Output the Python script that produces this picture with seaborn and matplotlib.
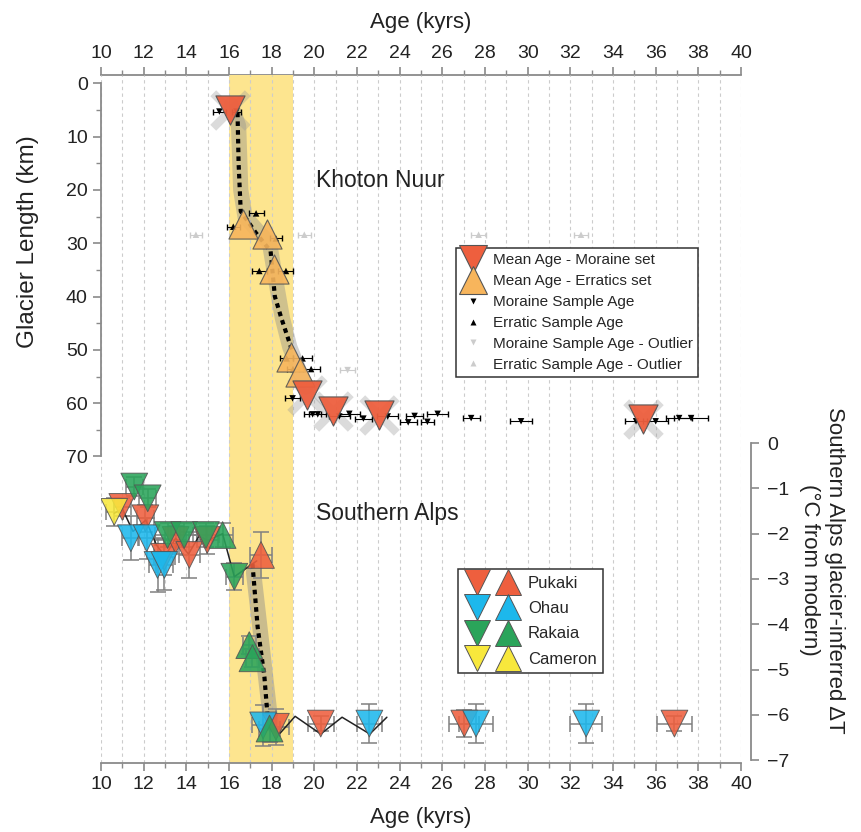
import numpy as np
import pandas as pd
import matplotlib
matplotlib.use("Agg")
import matplotlib.pyplot as plt
import seaborn as sns
from matplotlib.lines import Line2D
from matplotlib.legend_handler import HandlerTuple

sns.set_theme(style="white")
plt.rcParams['font.family'] = ['Liberation Sans', 'DejaVu Sans']

# ---------------- Khoton Nuur (left axis, km) ----------------
kn_moraine_age = [16.05, 19.64, 20.86, 23.05, 35.4]
kn_moraine_km = [5.0, 58.5, 61.4, 62.3, 62.9]
kn_erratic_age = [16.64, 17.76, 18.09, 18.9, 19.33]
kn_erratic_km = [26.3, 28.3, 34.9, 51.3, 54.1]

ms_age = [15.55, 16.35, 18.98, 19.92, 20.16, 21.17, 21.64, 22.3, 23.44, 24.4, 24.7, 25.3, 25.78, 27.35, 29.69, 35.08, 36.0, 37.1, 37.66]
ms_km = [5.3, 5.3, 59.1, 62.1, 62.1, 62.5, 62.0, 62.9, 62.5, 63.6, 62.4, 63.5, 62.0, 62.8, 63.4, 63.4, 63.4, 62.8, 62.8]
ms_err = [0.3, 0.2, 0.35, 0.4, 0.4, 0.5, 0.5, 0.4, 0.5, 0.4, 0.4, 0.3, 0.5, 0.4, 0.5, 0.5, 0.6, 0.6, 0.8]

es_age = [16.2, 17.27, 18.2, 17.42, 18.67, 19.45, 18.7, 19.85, 19.0]
es_km = [26.9, 24.4, 29.1, 35.2, 35.2, 51.6, 51.6, 53.6, 53.6]
es_err = [0.3, 0.35, 0.3, 0.35, 0.35, 0.45, 0.3, 0.4, 0.3]

mo_age = [21.56]
mo_km = [53.8]
mo_err = [0.35]
eo_age = [14.45, 19.53, 27.7, 32.5]
eo_km = [28.4, 28.4, 28.4, 28.4]
eo_err = [0.3, 0.3, 0.35, 0.35]

kn_dot_age = [16.4, 16.45, 16.55, 17.25, 17.95, 18.15, 18.45, 18.98]
kn_dot_km = [5.5, 15.0, 24.0, 28.0, 31.5, 40.0, 44.0, 50.4]
kn_band_age = [16.1, 16.45, 16.55, 16.75, 17.3, 17.9, 18.15, 18.5, 18.85, 19.3, 19.6]
kn_band_km = [4.0, 8.0, 20.0, 25.0, 27.5, 30.0, 36.0, 44.0, 49.5, 54.0, 57.0]

# ---------------- Southern Alps (right axis, deg C) ----------------
sa_glacier = (['Pukaki'] * 10 + ['Pukaki'] + ['Ohau'] * 8 + ['Rakaia'] * 6 + ['Rakaia'] * 4 + ['Cameron'])
sa_kind = (['down'] * 10 + ['up'] + ['down'] * 8 + ['down'] * 6 + ['up'] * 4 + ['down'])
sa_age = [11.0, 12.08, 12.97, 13.5, 14.14, 14.98, 18.2, 20.3, 27.03, 36.88,
          17.5,
          11.4, 12.14, 12.65, 12.97, 17.6, 22.58, 27.58, 32.74,
          11.56, 12.19, 13.12, 13.9, 14.92, 16.25,
          15.7, 16.95, 17.1, 17.9,
          10.62]
sa_dt = [-1.41, -1.66, -2.51, -2.14, -2.47, -2.14, -6.26, -6.19, -6.19, -6.19,
         -2.47,
         -2.1, -2.1, -2.69, -2.69, -6.23, -6.19, -6.19, -6.19,
         -0.96, -1.22, -2.03, -2.03, -2.03, -2.95,
         -2.03, -4.46, -4.75, -6.3,
         -1.52]
sa_xerr = [0.4, 0.4, 0.5, 0.5, 0.5, 0.5, 0.6, 0.6, 0.7, 0.8,
           0.5,
           0.4, 0.4, 0.4, 0.4, 0.5, 0.6, 0.8, 0.75,
           0.4, 0.4, 0.6, 0.6, 0.6, 0.4,
           0.5, 0.3, 0.3, 0.5,
           0.4]
sa_yerr = [0.2, 0.3, 0.4, 0.3, 0.5, 0.3, 0.4, 0.16, 0.3, 0.16,
           0.5,
           0.48, 0.45, 0.6, 0.55, 0.45, 0.43, 0.43, 0.43,
           0.2, 0.2, 0.27, 0.27, 0.27, 0.3,
           0.27, 0.2, 0.2, 0.3,
           0.3]

sa_line_age = [10.62, 11.0, 11.5, 12.1, 12.6, 13.0, 13.5, 14.1, 14.6, 15.0, 15.7, 16.25, 17.3]
sa_line_dt = [-1.55, -1.45, -1.95, -1.7, -2.25, -2.5, -2.1, -2.45, -2.05, -2.15, -2.0, -2.95, -2.6]
sa_zig_age = [18.4, 19.1, 20.3, 21.3, 22.6, 23.4]
sa_zig_dt = [-6.4, -6.03, -6.42, -6.05, -6.42, -6.05]
sa_dot_age = [17.1, 17.34, 17.66, 17.81]
sa_dot_dt = [-2.66, -4.05, -5.16, -6.04]
sa_band_age = [17.15, 17.97]
sa_band_dt = [-2.85, -6.2]

glaciers = ['Pukaki', 'Ohau', 'Rakaia', 'Cameron']
palette = {'Pukaki': '#EE5F3E', 'Ohau': '#1DB8EC', 'Rakaia': '#2AA45A', 'Cameron': '#F8E83C'}
RED = '#EE5F3E'
ORANGE = '#F7B55C'

sa = pd.DataFrame({'glacier': sa_glacier, 'kind': sa_kind, 'age': sa_age, 'dt': sa_dt,
                   'xerr': sa_xerr, 'yerr': sa_yerr})

# ---------------- figure ----------------
W, H = 862, 832
fig = plt.figure(figsize=(W / 100, H / 100), dpi=100)
L, R, T, B = 101, 741, 75, 763
ax = fig.add_axes([L / W, 1 - B / H, (R - L) / W, (B - T) / H])
ax.set_xlim(10, 40)
ax.set_ylim(127.5, -1.56)
ax2 = ax.twinx()
ax2.set_ylim(-7.06, 8.12)

spine_c = '#8a8a8a'
for a in (ax, ax2):
    for s in a.spines.values():
        s.set_color(spine_c)
        s.set_linewidth(1.3)
ax.spines['top'].set_visible(False)
ax.spines['right'].set_visible(False)
ax.spines['left'].set_bounds(0, 70)
for k in ('top', 'left', 'bottom'):
    ax2.spines[k].set_visible(False)
ax2.spines['right'].set_bounds(-7, 0)
ax2.spines['right'].set_position(('outward', 7))

ax.set_xticks(np.arange(10, 41, 2))
ax.set_xticks(np.arange(11, 40, 2), minor=True)
ax.set_yticks(np.arange(0, 71, 10))
ax.set_yticks(np.arange(5, 70, 10), minor=True)
ax2.set_yticks(np.arange(-7, 1, 1))

tick_kw = dict(direction='out', color=spine_c, labelsize=14, labelcolor='#222222', width=1.2)
ax.tick_params(axis='both', which='major', length=6, left=True, bottom=True, **tick_kw)
ax.tick_params(axis='both', which='minor', length=3.5, left=True, bottom=True, color=spine_c, width=1.0, direction='out')
ax2.tick_params(axis='y', which='major', length=6, right=True, pad=6, **tick_kw)

secax = ax.secondary_xaxis('top')
secax.set_xticks(np.arange(10, 41, 2))
secax.set_xticks(np.arange(11, 40, 2), minor=True)
secax.tick_params(axis='x', which='major', length=6, **tick_kw)
secax.tick_params(axis='x', which='minor', length=3.5, color=spine_c, width=1.0, direction='out')
secax.spines['top'].set_color(spine_c)
secax.spines['top'].set_linewidth(1.3)
secax.set_xlabel('Age (kyrs)', fontsize=16, color='#222222', labelpad=12)
ax.set_xlabel('Age (kyrs)', fontsize=16, color='#222222', labelpad=10)

# background band + grid
ax.axvspan(16, 19, color='#FDE58F', zorder=0.1, lw=0)
ax.set_axisbelow(True)
ax.grid(True, axis='x', which='both', color='#cccccc', linestyle=(0, (3, 3)), linewidth=0.8)
ax.grid(False, axis='y')
ax2.grid(False)

# ---------------- Khoton Nuur drawing ----------------
ax.plot(kn_band_age, kn_band_km, color='#8c8c8c', alpha=0.4, lw=11,
        solid_capstyle='round', solid_joinstyle='round', zorder=2)
ax.scatter(kn_moraine_age, kn_moraine_km, marker='x', s=620, linewidths=6,
           color='#9a9a9a', alpha=0.35, zorder=2.5)
sns.lineplot(x=kn_dot_age, y=kn_dot_km, ax=ax, color='black', lw=3,
             linestyle=(0, (1.1, 1.0)), estimator=None, sort=False, zorder=3, legend=False)

ax.errorbar(eo_age, eo_km, xerr=eo_err, fmt='none', ecolor='#cccccc', elinewidth=0.8, capsize=2, zorder=3.5)
ax.errorbar(mo_age, mo_km, xerr=mo_err, fmt='none', ecolor='#cccccc', elinewidth=0.8, capsize=2, zorder=3.5)
sns.scatterplot(x=eo_age, y=eo_km, ax=ax, marker='^', s=22, color='#cccccc', edgecolor='none', zorder=3.6, legend=False)
sns.scatterplot(x=mo_age, y=mo_km, ax=ax, marker='v', s=22, color='#cccccc', edgecolor='none', zorder=3.6, legend=False)

ax.errorbar(ms_age, ms_km, xerr=ms_err, fmt='none', ecolor='black', elinewidth=0.8, capsize=2, zorder=4)
ax.errorbar(es_age, es_km, xerr=es_err, fmt='none', ecolor='black', elinewidth=0.8, capsize=2, zorder=4)
sns.scatterplot(x=ms_age, y=ms_km, ax=ax, marker='v', s=22, color='black', edgecolor='none', zorder=4.5, legend=False)
sns.scatterplot(x=es_age, y=es_km, ax=ax, marker='^', s=22, color='black', edgecolor='none', zorder=4.5, legend=False)

sns.scatterplot(x=kn_erratic_age, y=kn_erratic_km, ax=ax, marker='^', s=440, color=ORANGE,
                edgecolor='#555555', linewidth=0.8, alpha=0.9, zorder=6, legend=False)
sns.scatterplot(x=kn_moraine_age, y=kn_moraine_km, ax=ax, marker='v', s=440, color=RED,
                edgecolor='#555555', linewidth=0.8, alpha=0.95, zorder=6, legend=False)

ax.text(20.1, 18.2, 'Khoton Nuur', fontsize=16.5, color='#222222', ha='left', va='center', zorder=7)

# ---------------- Southern Alps drawing ----------------
ax2.errorbar(sa['age'], sa['dt'], xerr=sa['xerr'], yerr=sa['yerr'], fmt='none', ecolor='#808080',
             elinewidth=1.1, capsize=6, capthick=1.1, zorder=2)
ax2.plot(sa_band_age, sa_band_dt, color='#8c8c8c', alpha=0.45, lw=11, solid_capstyle='round', zorder=2.5)
sns.lineplot(x=sa_line_age, y=sa_line_dt, ax=ax2, color='#222222', lw=1.1,
             estimator=None, sort=False, zorder=3, legend=False)
sns.lineplot(x=sa_zig_age, y=sa_zig_dt, ax=ax2, color='#222222', lw=1.1,
             estimator=None, sort=False, zorder=3, legend=False)
sns.lineplot(x=sa_dot_age, y=sa_dot_dt, ax=ax2, color='black', lw=3,
             linestyle=(0, (1.1, 1.0)), estimator=None, sort=False, zorder=3.5, legend=False)

for kind, mk in (('down', 'v'), ('up', '^')):
    sub = sa[sa['kind'] == kind]
    sns.scatterplot(data=sub, x='age', y='dt', hue='glacier', hue_order=glaciers, palette=palette,
                    ax=ax2, marker=mk, s=370, edgecolor='#555555', linewidth=0.7, alpha=0.88,
                    zorder=5, legend=False)

ax2.text(20.1, -1.55, 'Southern Alps', fontsize=16.5, color='#222222', ha='left', va='center', zorder=7)
ax2.set_ylabel('')
ax.set_ylabel('')

# ---------------- legends ----------------
h1 = [Line2D([], [], ls='none', marker='v', ms=20, mfc=RED, mec='#555555', mew=0.8),
      Line2D([], [], ls='none', marker='^', ms=20, mfc=ORANGE, mec='#555555', mew=0.8),
      Line2D([], [], ls='none', marker='v', ms=5, mfc='black', mec='none'),
      Line2D([], [], ls='none', marker='^', ms=5, mfc='black', mec='none'),
      Line2D([], [], ls='none', marker='v', ms=5, mfc='#cccccc', mec='none'),
      Line2D([], [], ls='none', marker='^', ms=5, mfc='#cccccc', mec='none')]
l1 = ['Mean Age - Moraine set', 'Mean Age - Erratics set', 'Moraine Sample Age',
      'Erratic Sample Age', 'Moraine Sample Age - Outlier', 'Erratic Sample Age - Outlier']
leg1 = ax2.legend(h1, l1, loc='upper left', bbox_to_anchor=((456 - L) / (R - L), (B - 248) / (B - T)),
                  borderaxespad=0, fontsize=11, frameon=True, fancybox=False, framealpha=1,
                  edgecolor='#333333', handlelength=1.5, handletextpad=0.55, labelspacing=0.45,
                  borderpad=0.35)
leg1.get_frame().set_linewidth(1.1)
leg1.set_zorder(20)
ax2.add_artist(leg1)

h2 = [(Line2D([], [], ls='none', marker='v', ms=19, mfc=palette[g], mec='#555555', mew=0.7),
       Line2D([], [], ls='none', marker='^', ms=19, mfc=palette[g], mec='#555555', mew=0.7)) for g in glaciers]
leg2 = ax2.legend(h2, glaciers, loc='upper left', bbox_to_anchor=((458 - L) / (R - L), (B - 569) / (B - T)),
                  borderaxespad=0, fontsize=12, frameon=True, fancybox=False, framealpha=1,
                  edgecolor='#333333', handlelength=3.3, handletextpad=0.5, labelspacing=0.62,
                  borderpad=0.4, handler_map={tuple: HandlerTuple(ndivide=None, pad=0.45)})
leg2.get_frame().set_linewidth(1.1)
leg2.set_zorder(20)

# axis titles
fig.text(28 / W, 1 - 242 / H, 'Glacier Length (km)', rotation=90, ha='center', va='center',
         fontsize=17.5, color='#222222')
fig.text(822 / W, 1 - 570 / H, 'Southern Alps glacier-inferred ΔT\n(°C from modern)', rotation=270,
         ha='center', va='center', fontsize=16, color='#222222', linespacing=1.3)

fig.savefig('out.png', dpi=100)
